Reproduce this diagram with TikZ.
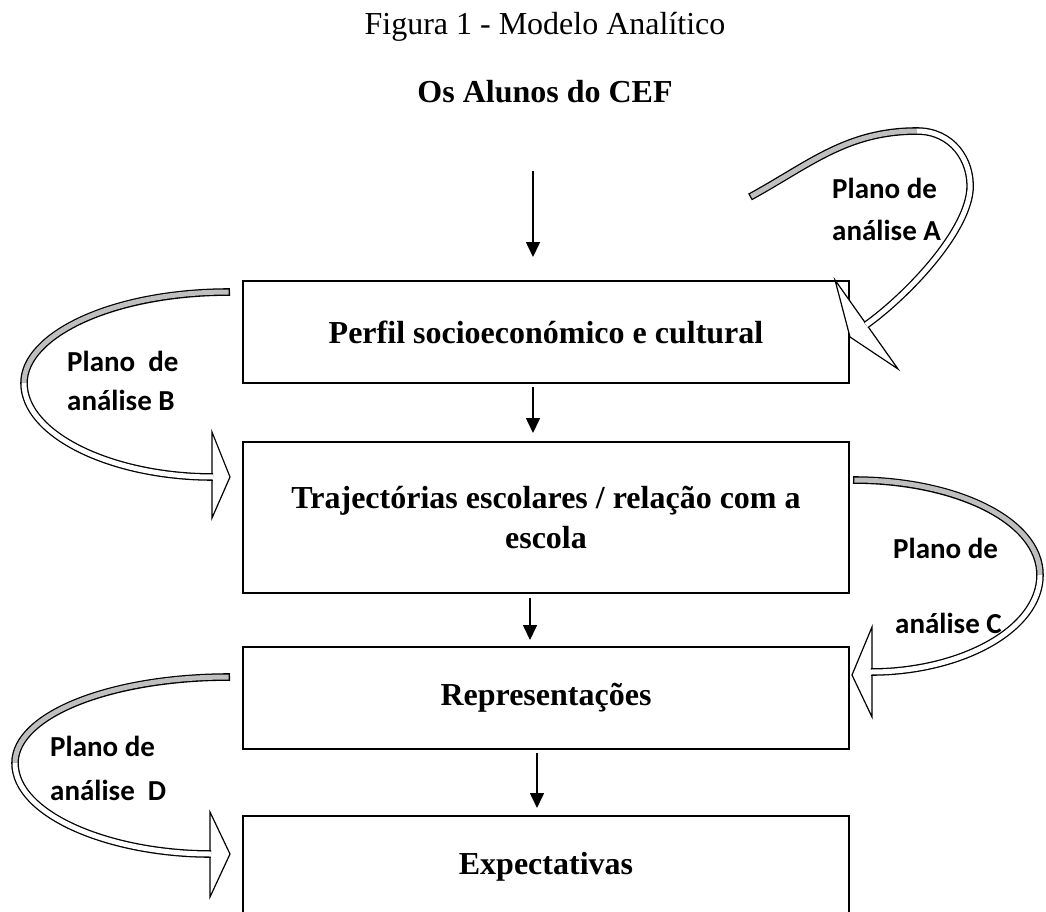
\documentclass[tikz,border=0pt]{standalone}
\usepackage{fontspec}
\setmainfont{Liberation Serif}
\newfontfamily\calibri{Carlito}
\usetikzlibrary{arrows.meta}

\tikzset{
  caixa/.style={draw, line width=2.5pt, inner sep=0pt, outer sep=0pt,
    minimum width=606pt, minimum height=102pt, align=center,
    font=\fontsize{32}{40}\selectfont\bfseries},
  seta/.style={line width=1.6pt, -{Triangle[length=15pt,width=14pt]}},
  plano/.style={anchor=base west, inner sep=0pt,
    font=\fontsize{29}{34}\selectfont\calibri\bfseries},
  fita/.style={line width=5pt, draw=white,
    preaction={draw=black, line width=7.6pt}},
  fitacinza/.style={line width=5pt, draw=gray!50, shorten <=1.3pt,
    preaction={draw=black, line width=7.6pt, shorten <=0pt}},
  ponta/.style={draw, line width=1.2pt, fill=white, line join=miter}
}

\begin{document}
\begin{tikzpicture}[x=1pt, y=-1pt]
  \useasboundingbox (0,0) rectangle (1046,912);
  \clip (0,0) rectangle (1046,912);
  % titulos
  \node[anchor=base, inner sep=0pt, font=\fontsize{32}{40}\selectfont] (figura) at (545,35) {Figura 1 - Modelo Analítico};
  \node[anchor=base, inner sep=0pt, font=\fontsize{32}{40}\selectfont\bfseries] (alunos) at (545,103) {Os Alunos do CEF};
  % caixas
  \node[caixa] (perfil) at (546,332) {Perfil socioeconómico e cultural};
  \node[caixa, minimum height=151pt] (trajectorias) at (546,517.5) {Trajectórias escolares / relação com a\\escola};
  \node[caixa] (representacoes) at (546,698) {Representações};
  \node[caixa] (expectativas) at (546,867) {Expectativas};
  % setas entre caixas
  \draw[seta, shorten <=67pt, shorten >=24pt] ([xshift=-12pt]alunos.south) -- ([xshift=-13pt]perfil.north);
  \draw[seta, shorten <=4pt, shorten >=9pt] ([xshift=-13pt]perfil.south) -- ([xshift=-13pt]trajectorias.north);
  \draw[seta, shorten <=5pt, shorten >=7pt] ([xshift=-16pt]trajectorias.south) -- ([xshift=-16pt]representacoes.north);
  \draw[seta, shorten <=4pt, shorten >=8pt] ([xshift=-9pt]representacoes.south) -- ([xshift=-9pt]expectativas.north);
  % pontas das setas curvas
  \draw[ponta] (835,280) -- (850,337) -- (898,369) -- cycle;% A
  \draw[ponta] (212,432) -- (230,477) -- (212,518) -- cycle;% B
  \draw[ponta] (872,627) -- (852,675) -- (872,717) -- cycle;% C
  \draw[ponta] (210,812) -- (230,854) -- (210,897) -- cycle;% D
  % setas curvas
  \coordinate (caudaA) at (750,197);
  \coordinate (topoA) at (917,131);
  \coordinate (fimA) at (866,325);
  \draw[fitacinza] (caudaA) .. controls (810,164) and (847,131) .. (topoA);
  \draw[fita] (topoA) .. controls (952,131) and (972,160) .. (970,190) .. controls (966,235) and (904,298) .. (fimA);
  \coordinate (caudaB) at (230,292);
  \coordinate (meioB) at (24,383);
  \coordinate (fimB) at (213,477);
  \draw[fitacinza] (caudaB) .. controls (112,292) and (24,335) .. (meioB);
  \draw[fita] (meioB) .. controls (24,435) and (112,477) .. (fimB);
  \coordinate (caudaC) at (853,480);
  \coordinate (meioC) at (1040,575);
  \coordinate (fimC) at (871,672);
  \draw[fitacinza] (caudaC) .. controls (955,480) and (1040,520) .. (meioC);
  \draw[fita] (meioC) .. controls (1040,630) and (960,672) .. (fimC);
  \coordinate (caudaD) at (230,677);
  \coordinate (meioD) at (15,763);
  \coordinate (fimD) at (211,854);
  \draw[fitacinza] (caudaD) .. controls (110,677) and (15,715) .. (meioD);
  \draw[fita] (meioD) .. controls (15,815) and (110,854) .. (fimD);
  % planos de analise
  \node[plano] (planoA) at (832,199) {Plano de};
  \node[plano] (analiseA) at (832,240) {análise A};
  \node[plano] (planoB) at (67,371) {Plano\ \ de};
  \node[plano] (analiseB) at (67,410) {análise B};
  \node[plano] (planoC) at (893,558) {Plano de};
  \node[plano] (analiseC) at (895,633) {análise C};
  \node[plano] (planoD) at (50,756) {Plano de};
  \node[plano] (analiseD) at (50,800) {análise\ \ D};
\end{tikzpicture}
\end{document}
